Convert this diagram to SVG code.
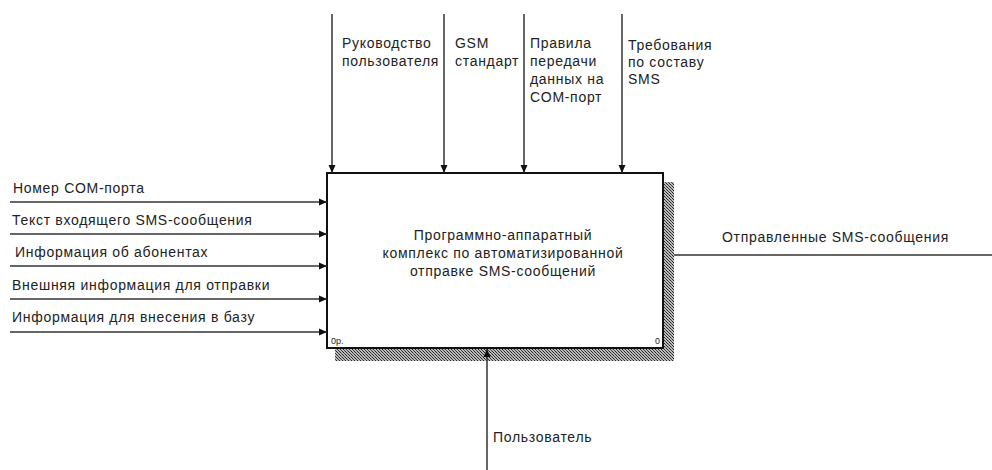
<svg xmlns="http://www.w3.org/2000/svg" width="992" height="470" viewBox="0 0 992 470">
<defs>
<pattern id="dith" width="3" height="3" patternUnits="userSpaceOnUse">
<rect width="3" height="3" fill="#bbb"/>
<rect x="0" y="0" width="1" height="1" fill="#222"/>
<rect x="1" y="1" width="1" height="1" fill="#222"/>
<rect x="2" y="2" width="1" height="1" fill="#444"/>
</pattern>
<marker id="ah" markerWidth="8" markerHeight="8" refX="8" refY="4" orient="auto" markerUnits="userSpaceOnUse">
<path d="M0,0.5 L8,4 L0,7.5 Z" fill="#111"/>
</marker>
</defs>
<style>
text{font-family:"Liberation Sans",Arial,sans-serif;font-size:14px;fill:#222;letter-spacing:0.7px}
.c{stroke:#333;stroke-width:1.5;fill:none}
.s{font-size:9px;letter-spacing:0}
</style>
<rect width="992" height="470" fill="#fff"/>
<g id="node-A0">
<rect x="335" y="182" width="339" height="179" fill="url(#dith)"/>
<rect x="327" y="173" width="336" height="175" fill="#fff" stroke="#111" stroke-width="2"/>
<text x="503" y="240" text-anchor="middle">Программно-аппаратный</text>
<text x="503" y="258" text-anchor="middle">комплекс по автоматизированной</text>
<text x="503" y="276" text-anchor="middle">отправке SMS-сообщений</text>
<text class="s" x="331" y="344">0р.</text>
<text class="s" x="655" y="344">0</text>
</g>
<g id="connectors">
<line class="c" x1="332" y1="14" x2="332" y2="173" marker-end="url(#ah)"/>
<line class="c" x1="444" y1="14" x2="444" y2="173" marker-end="url(#ah)"/>
<line class="c" x1="524" y1="14" x2="524" y2="173" marker-end="url(#ah)"/>
<line class="c" x1="622" y1="14" x2="622" y2="173" marker-end="url(#ah)"/>
<line class="c" x1="10" y1="202" x2="327" y2="202" marker-end="url(#ah)"/>
<line class="c" x1="10" y1="234" x2="327" y2="234" marker-end="url(#ah)"/>
<line class="c" x1="10" y1="266" x2="327" y2="266" marker-end="url(#ah)"/>
<line class="c" x1="10" y1="299" x2="327" y2="299" marker-end="url(#ah)"/>
<line class="c" x1="10" y1="332" x2="327" y2="332" marker-end="url(#ah)"/>
<line class="c" x1="674" y1="255" x2="992" y2="255"/>
<line class="c" x1="487" y1="470" x2="487" y2="349" marker-end="url(#ah)"/>
</g>
<g id="labels">
<text x="342" y="48">Руководство</text>
<text x="342" y="66">пользователя</text>
<text x="455" y="48">GSM</text>
<text x="455" y="66">стандарт</text>
<text x="530" y="48">Правила</text>
<text x="530" y="66">передачи</text>
<text x="530" y="84">данных на</text>
<text x="530" y="102">COM-порт</text>
<text x="628" y="50">Требования</text>
<text x="628" y="67">по составу</text>
<text x="628" y="84">SMS</text>
<text x="13" y="193">Номер COM-порта</text>
<text x="12" y="225">Текст входящего SMS-сообщения</text>
<text x="15" y="257">Информация об абонентах</text>
<text x="12" y="290">Внешняя информация для отправки</text>
<text x="12" y="322">Информация для внесения в базу</text>
<text x="722" y="242">Отправленные SMS-сообщения</text>
<text x="493" y="442">Пользователь</text>
</g>
</svg>
